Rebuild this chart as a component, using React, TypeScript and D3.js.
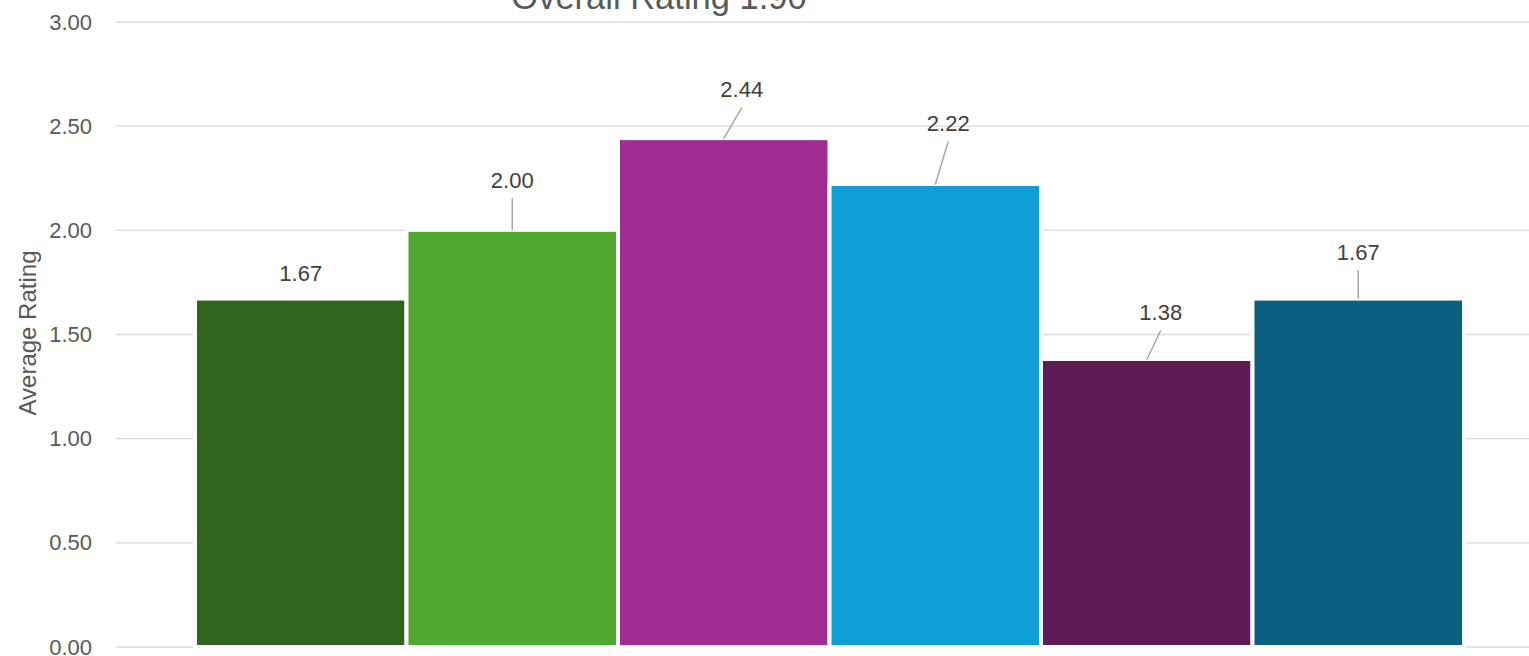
import React from "react";
import * as d3 from "d3";

// Average rating per group
const values: number[] = [1.67, 2.0, 2.44, 2.22, 1.38, 1.67];
const barColors: string[] = ["#31641E", "#4EA72E", "#A02B93", "#0F9ED5", "#5F1A55", "#0B6082"];
const tickValues: number[] = [0, 0.5, 1, 1.5, 2, 2.5, 3];
const titleText = "Overall Rating 1.90";
const axisTitle = "Average Rating";

// data-label placement relative to the top centre of each bar
const labelOffsets: { dx: number; dy: number; leader: boolean }[] = [
  { dx: 0, dy: -26, leader: false },
  { dx: 0, dy: -50, leader: true },
  { dx: 18, dy: -49, leader: true },
  { dx: 13, dy: -61, leader: true },
  { dx: 14, dy: -47, leader: true },
  { dx: 0, dy: -47, leader: true },
];

const W = 1529;
const H = 656;
const FONT = "'Liberation Sans', Arial, sans-serif";

export default function App() {
  const y = d3.scaleLinear().domain([0, 3]).range([647, 22]);
  const x = d3
    .scaleBand<number>()
    .domain(values.map((_, i) => i))
    .range([195, 1464])
    .paddingInner(0)
    .paddingOuter(0);
  const gap = 2; // half of the white separation between bars
  const halo = 4;
  const border = 1.5; // white bar border eats into the fill

  return (
    <svg
      width={W}
      height={H}
      style={{ position: "absolute", left: 0, top: 0, background: "#fff" }}
    >
      <rect x={0} y={0} width={W} height={H} fill="#fff" />
      {/* gridlines */}
      {tickValues.map((t) => (
        <line
          key={`g${t}`}
          x1={116}
          x2={W}
          y1={y(t)}
          y2={y(t)}
          stroke="#d9d9d9"
          strokeWidth={1.3}
        />
      ))}
      {/* tick labels */}
      {tickValues.map((t) => (
        <text
          key={`t${t}`}
          x={92}
          y={y(t)}
          textAnchor="end"
          dominantBaseline="central"
          fontFamily={FONT}
          fontSize={22}
          fill="#595959"
        >
          {d3.format(".2f")(t)}
        </text>
      ))}
      {/* bars with a white halo over the gridlines */}
      {values.map((v, i) => {
        const x0 = (x(i) as number) + gap;
        const w = x.bandwidth() - 2 * gap;
        const top = y(v);
        return (
          <g key={`b${i}`}>
            <rect
              x={x0 - halo}
              y={top - halo + border}
              width={w + 2 * halo}
              height={y(0) - top + halo + 3}
              fill="#fff"
            />
            <rect
              x={x0}
              y={top + border}
              width={w}
              height={y(0) - 2 - top - border}
              fill={barColors[i]}
            />
          </g>
        );
      })}
      {/* data labels with leader lines */}
      {values.map((v, i) => {
        const cx = (x(i) as number) + x.bandwidth() / 2;
        const top = y(v);
        const o = labelOffsets[i];
        const lx = cx + o.dx;
        const ly = top + o.dy;
        return (
          <g key={`l${i}`}>
            {o.leader && (
              <line
                x1={lx}
                y1={ly + 18}
                x2={cx}
                y2={top}
                stroke="#a6a6a6"
                strokeWidth={1.5}
              />
            )}
            <text
              x={lx}
              y={ly}
              textAnchor="middle"
              dominantBaseline="central"
              fontFamily={FONT}
              fontSize={22}
              fill="#404040"
            >
              {d3.format(".2f")(v)}
            </text>
          </g>
        );
      })}
      {/* axis title */}
      <text
        transform={`translate(27,333) rotate(-90)`}
        textAnchor="middle"
        dominantBaseline="central"
        fontFamily={FONT}
        fontSize={24}
        fill="#595959"
      >
        {axisTitle}
      </text>
      {/* chart title */}
      <text
        x={659}
        y={9}
        textAnchor="middle"
        fontFamily={FONT}
        fontSize={34.5}
        fill="#595959"
      >
        {titleText}
      </text>
    </svg>
  );
}
